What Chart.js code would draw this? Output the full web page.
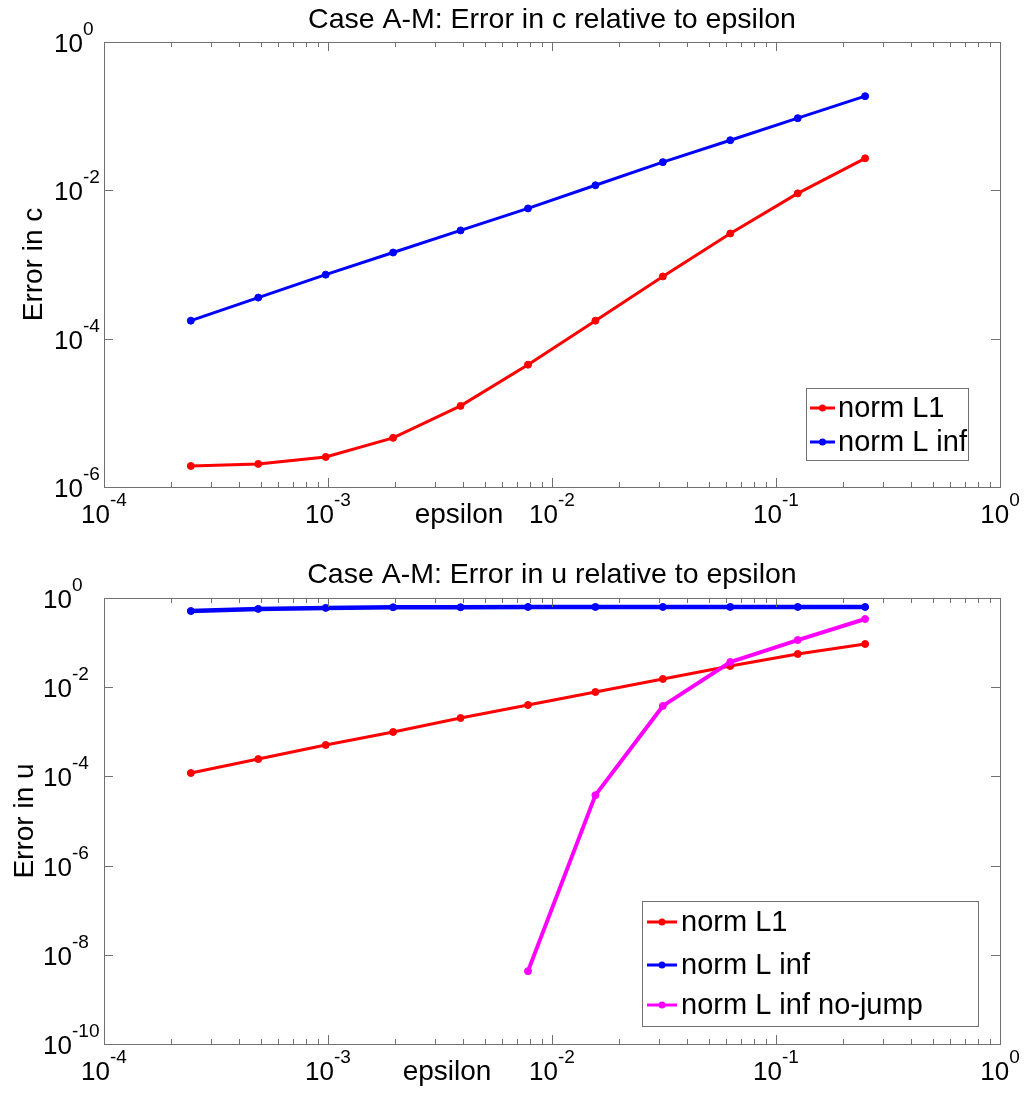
<!DOCTYPE html>
<html>
<head>
<meta charset="utf-8">
<script src="https://cdn.jsdelivr.net/npm/chart.js@4.4.1/dist/chart.umd.min.js"></script>
<style>
  body { margin: 0; background: #fff; }
  .wrap { position: relative; width: 1024px; height: 1093px; }
  canvas { position: absolute; left: 0; }
</style>
</head>
<body>
<div class="wrap">
  <canvas id="chartC" width="1024" height="546" style="top:0"></canvas>
  <canvas id="chartU" width="1024" height="547" style="top:546px"></canvas>
</div>
<script>
// epsilon = 2^-12 ... 2^-2
const epsilon = [0.000244140625, 0.00048828125, 0.0009765625, 0.001953125, 0.00390625,
                 0.0078125, 0.015625, 0.03125, 0.0625, 0.125, 0.25];

// error in c
const cErrL1   = [1.92e-6, 2.05e-6, 2.54e-6, 4.6e-6, 1.24e-5, 4.46e-5, 1.75e-4, 6.9e-4, 2.62e-3, 9.1e-3, 2.7e-2];
const cErrLinf = [1.75e-4, 3.58e-4, 7.3e-4, 1.45e-3, 2.88e-3, 5.7e-3, 1.17e-2, 2.4e-2, 4.74e-2, 9.4e-2, 0.186];

// error in u
const uErrL1   = [1.19e-4, 2.45e-4, 5.06e-4, 9.9e-4, 2.04e-3, 3.99e-3, 7.8e-3, 1.53e-2, 2.99e-2, 5.55e-2, 9.3e-2];
const uErrLinf = [0.51, 0.57, 0.6, 0.62, 0.62, 0.63, 0.63, 0.63, 0.63, 0.63, 0.63];
const uErrLinfNoJump = [null, null, null, null, null, 4.3e-9, 3.8e-5, 3.8e-3, 3.67e-2, 0.114, 0.338];

// tick labels (powers of ten)
const xTickExps  = [-4, -3, -2, -1, 0];
const cYTickExps = [0, -2, -4, -6];
const uYTickExps = [0, -2, -4, -6, -8, -10];

const FONT = "'Liberation Sans', Arial, sans-serif";
const AXIS = '#707070';

function pts(ys) {
  return epsilon.map((x, i) => ({ x: x, y: ys[i] })).filter(p => p.y !== null);
}

function series(label, ys, color, width, order) {
  return {
    label: label,
    data: pts(ys),
    borderColor: color,
    backgroundColor: color,
    pointBackgroundColor: color,
    pointBorderColor: color,
    borderWidth: width,
    pointRadius: 3.5,
    pointBorderWidth: 1,
    tension: 0,
    order: order
  };
}

// draws 10^exp with a raised exponent
function drawPow(ctx, x, y, exp, mode) {
  ctx.font = '26px ' + FONT;
  const w10 = ctx.measureText('10').width;
  ctx.font = '19px ' + FONT;
  const we = ctx.measureText(String(exp)).width;
  let x0;
  if (mode === 'center') x0 = x - (w10 + we) / 2;
  else x0 = x - w10; // x is right edge of "10"
  ctx.textAlign = 'left';
  ctx.textBaseline = 'alphabetic';
  ctx.font = '26px ' + FONT;
  ctx.fillText('10', x0, y);
  ctx.font = '19px ' + FONT;
  ctx.fillText(String(exp), x0 + w10, y - 17);
}

const matlabFrame = {
  id: 'matlabFrame',
  afterDatasetsDraw(chart, args, o) {
    const ctx = chart.ctx, a = chart.chartArea;
    const xs = chart.scales.x, ys = chart.scales.y;
    ctx.save();
    ctx.strokeStyle = AXIS;
    ctx.lineWidth = 1;
    ctx.strokeRect(Math.round(a.left) + 0.5, Math.round(a.top) + 0.5,
                   Math.round(a.right - a.left), Math.round(a.bottom - a.top));

    // x ticks, inward on bottom and top
    ctx.beginPath();
    for (let e = xTickExps[0]; e <= xTickExps[xTickExps.length - 1]; e++) {
      for (let m = 1; m < 10; m++) {
        const v = m * Math.pow(10, e);
        if (v > xs.max * 1.0001) break;
        const px = Math.round(xs.getPixelForValue(v)) + 0.5;
        const len = m === 1 ? 9 : 5;
        ctx.moveTo(px, a.bottom); ctx.lineTo(px, a.bottom - len);
        ctx.moveTo(px, a.top); ctx.lineTo(px, a.top + len);
      }
    }
    // y ticks at labelled decades, left and right
    o.yExps.forEach(e => {
      const py = Math.round(ys.getPixelForValue(Math.pow(10, e))) + 0.5;
      ctx.moveTo(a.left, py); ctx.lineTo(a.left + 9, py);
      ctx.moveTo(a.right, py); ctx.lineTo(a.right - 9, py);
    });
    ctx.stroke();

    ctx.fillStyle = '#000';
    xTickExps.forEach(e => drawPow(ctx, xs.getPixelForValue(Math.pow(10, e)), a.bottom + 36, e, 'center'));
    o.yExps.forEach(e => drawPow(ctx, o.yLabelRight, ys.getPixelForValue(Math.pow(10, e)) + 10, e, 'right'));

    // title
    ctx.font = '28.5px ' + FONT;
    ctx.textAlign = 'center';
    ctx.textBaseline = 'alphabetic';
    ctx.fillText(o.title, (a.left + a.right) / 2, o.titleY);

    // x label
    ctx.font = '28px ' + FONT;
    ctx.fillText('epsilon', o.xLabelX, a.bottom + 36);

    // y label
    ctx.save();
    ctx.translate(o.yLabelX, (a.top + a.bottom) / 2);
    ctx.rotate(-Math.PI / 2);
    ctx.fillText(o.yLabel, 0, 0);
    ctx.restore();

    // legend box
    const L = o.legend;
    ctx.fillStyle = '#fff';
    ctx.fillRect(L.x, L.y, L.w, L.h);
    ctx.strokeStyle = AXIS;
    ctx.strokeRect(L.x + 0.5, L.y + 0.5, L.w, L.h);
    chart.data.datasets.forEach((ds, i) => {
      const ry = L.rows[i];
      ctx.strokeStyle = ds.borderColor;
      ctx.lineWidth = 3;
      ctx.beginPath();
      ctx.moveTo(L.lineX0, ry); ctx.lineTo(L.lineX1, ry);
      ctx.stroke();
      ctx.fillStyle = ds.borderColor;
      ctx.beginPath();
      ctx.arc((L.lineX0 + L.lineX1) / 2, ry, 3.5, 0, Math.PI * 2);
      ctx.fill();
      ctx.fillStyle = '#000';
      ctx.font = '29px ' + FONT;
      ctx.textAlign = 'left';
      ctx.textBaseline = 'middle';
      ctx.fillText(ds.label, L.textX, ry + 1);
    });
    ctx.restore();
  }
};

function makeChart(id, datasets, yMin, pad, frame) {
  return new Chart(document.getElementById(id), {
    type: 'line',
    data: { datasets: datasets },
    options: {
      responsive: false,
      animation: false,
      devicePixelRatio: 1,
      layout: { padding: pad },
      plugins: { legend: { display: false }, tooltip: { enabled: false }, matlabFrame: frame },
      scales: {
        x: {
          type: 'logarithmic', min: 1e-4, max: 1,
          grid: { display: false }, border: { display: false }, ticks: { display: false },
          afterFit: s => { s.height = 0; }
        },
        y: {
          type: 'logarithmic', min: yMin, max: 1,
          grid: { display: false }, border: { display: false }, ticks: { display: false },
          afterFit: s => { s.width = 0; }
        }
      }
    },
    plugins: [matlabFrame]
  });
}

makeChart('chartC', [
  series('norm L1', cErrL1, '#ff0000', 3, 2),
  series('norm L inf', cErrLinf, '#0000ff', 3, 1)
], 1e-6, { left: 104, right: 24, top: 42, bottom: 59 }, {
  title: 'Case A-M: Error in c relative to epsilon', titleY: 28,
  yLabel: 'Error in c', yLabelX: 42, yLabelRight: 83, yExps: cYTickExps, xLabelX: 459,
  legend: { x: 806, y: 388, w: 162, h: 72, rows: [408, 442], lineX0: 810, lineX1: 835, textX: 838 }
});

makeChart('chartU', [
  series('norm L1', uErrL1, '#ff0000', 3, 3),
  series('norm L inf', uErrLinf, '#0000ff', 4.5, 2),
  series('norm L inf no-jump', uErrLinfNoJump, '#ff00ff', 4, 1)
], 1e-10, { left: 104, right: 24, top: 52, bottom: 49 }, {
  title: 'Case A-M: Error in u relative to epsilon', titleY: 37,
  yLabel: 'Error in u', yLabelX: 33, yLabelRight: 72, yExps: uYTickExps, xLabelX: 447,
  legend: { x: 642, y: 355, w: 336, h: 125, rows: [376, 419, 459], lineX0: 647, lineX1: 677, textX: 681 }
});
</script>
</body>
</html>
